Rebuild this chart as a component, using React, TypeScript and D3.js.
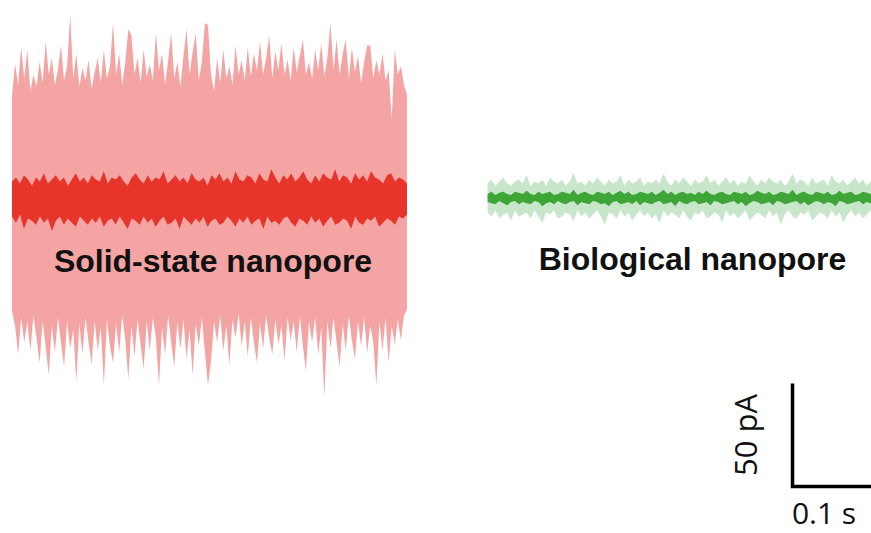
import * as d3 from 'd3';
import React from 'react';

// Peak envelope of the solid-state trace, pA
const solidLightTop = [50, 65, 55, 73, 58, 72, 52, 60, 54, 66, 56, 76, 60, 68, 55, 62, 74, 57, 64, 89, 58, 70, 54, 63, 57, 67, 53, 61, 68, 56, 72, 58, 64, 85, 60, 70, 55, 66, 82, 79, 60, 68, 56, 72, 59, 65, 57, 80, 62, 70, 55, 67, 80, 58, 66, 54, 69, 82, 60, 71, 80, 57, 66, 85, 84, 60, 52, 68, 56, 72, 58, 64, 55, 74, 60, 67, 57, 73, 59, 70, 62, 76, 60, 68, 79, 58, 71, 62, 75, 60, 67, 57, 73, 61, 69, 77, 60, 66, 58, 72, 62, 75, 59, 68, 85, 62, 77, 60, 70, 77, 58, 73, 61, 69, 56, 66, 74, 74, 58, 67, 60, 70, 57, 62, 38, 72, 60, 64, 55, 50];
const solidLightBottom = [-55, -62, -76, -58, -70, -60, -74, -57, -68, -80, -60, -72, -86, -62, -75, -58, -70, -82, -60, -73, -64, -89, -61, -76, -58, -70, -81, -60, -74, -63, -91, -59, -72, -80, -61, -75, -57, -69, -88, -62, -77, -59, -71, -83, -60, -74, -58, -68, -91, -63, -76, -57, -70, -82, -60, -73, -59, -78, -64, -86, -61, -72, -58, -75, -91, -79, -60, -70, -57, -74, -62, -81, -59, -68, -56, -72, -60, -77, -58, -70, -80, -61, -73, -57, -68, -76, -59, -71, -62, -79, -58, -69, -60, -75, -57, -72, -84, -60, -70, -58, -76, -63, -97, -60, -73, -58, -70, -82, -61, -74, -57, -69, -78, -60, -72, -58, -75, -62, -70, -91, -60, -74, -58, -80, -62, -71, -59, -69, -57, -54];
const solidDarkTop = [8, 10, 7, 11, 9, 6, 10, 8, 12, 7, 9, 11, 8, 10, 6, 9, 12, 8, 10, 7, 11, 9, 8, 13, 7, 10, 9, 11, 8, 6, 10, 12, 9, 7, 11, 8, 10, 9, 13, 7, 9, 11, 8, 10, 7, 12, 9, 8, 10, 6, 11, 9, 12, 8, 10, 7, 13, 9, 8, 11, 10, 7, 12, 9, 8, 14, 10, 7, 11, 9, 12, 8, 10, 13, 9, 7, 11, 8, 12, 10, 9, 14, 8, 11, 10, 7, 12, 9, 11, 8, 13, 10, 9, 7, 11, 12, 8, 10, 9, 7];
const solidDarkBottom = [-9, -12, -8, -15, -10, -11, -13, -9, -12, -10, -16, -11, -9, -13, -10, -12, -14, -9, -11, -13, -10, -12, -9, -14, -11, -10, -13, -9, -12, -15, -10, -11, -13, -9, -12, -10, -14, -11, -9, -13, -12, -10, -15, -9, -11, -13, -10, -12, -9, -14, -11, -10, -13, -12, -9, -11, -14, -10, -12, -9, -13, -11, -10, -15, -9, -12, -11, -13, -10, -9, -12, -14, -10, -11, -13, -9, -12, -10, -14, -11, -9, -13, -12, -10, -11, -15, -9, -12, -13, -10, -11, -9, -14, -12, -10, -11, -13, -9, -10, -8];

// Biological nanopore trace envelope, pA
const bioLightTop = [7, 9, 6, 8, 10, 7, 6, 8, 9, 7, 11, 6, 8, 7, 9, 6, 10, 8, 7, 9, 6, 8, 12, 7, 8, 6, 9, 7, 10, 8, 6, 9, 7, 8, 11, 6, 9, 7, 8, 10, 6, 8, 7, 9, 7, 12, 8, 6, 9, 7, 10, 8, 6, 9, 7, 8, 11, 7, 9, 6, 8, 10, 7, 9, 6, 8, 7, 11, 8, 6, 9, 7, 10, 8, 7, 9, 6, 8, 12, 7, 9, 8, 6, 10, 7, 8, 9, 6, 11, 8, 7, 9, 6, 8, 10, 7, 9, 6, 8, 7];
const bioLightBottom = [-7, -9, -6, -10, -8, -7, -11, -6, -9, -8, -7, -10, -6, -9, -12, -7, -8, -6, -10, -9, -7, -8, -11, -6, -9, -7, -10, -8, -6, -9, -13, -7, -8, -10, -6, -9, -7, -11, -8, -6, -9, -7, -10, -8, -12, -6, -9, -7, -8, -10, -6, -9, -11, -7, -8, -6, -10, -9, -7, -8, -12, -6, -9, -7, -10, -8, -6, -11, -9, -7, -8, -10, -6, -9, -7, -13, -8, -6, -9, -10, -7, -8, -6, -11, -9, -7, -8, -10, -6, -9, -7, -12, -8, -6, -9, -7, -10, -8, -6, -7];
const bioDarkTop = [2, 3, 1.5, 2.5, 3, 2, 1.5, 3, 2.5, 2, 3.5, 2, 1.5, 3, 2, 2.5, 3, 1.5, 2, 3, 2.5, 2, 4, 1.5, 2.5, 3, 2, 1.5, 3, 2.5, 2, 3, 1.5, 2.5, 3.5, 2, 3, 1.5, 2, 3, 2.5, 2, 3, 1.5, 2.5, 4, 2, 3, 1.5, 2.5, 3, 2, 2.5, 1.5, 3, 2, 3.5, 2, 1.5, 2.5, 3, 2, 1.5, 3, 2.5, 2, 3, 1.5, 2, 3.5, 2.5, 2, 3, 1.5, 2, 3, 2.5, 2, 4, 1.5, 2.5, 3, 2, 1.5, 3, 2.5, 2, 3, 1.5, 2, 3.5, 2, 2.5, 3, 1.5, 2, 3, 2.5, 2, 1.5];
const bioDarkBottom = [-2, -2.5, -3, -1.5, -2.5, -3.5, -2, -1.5, -3, -2, -2.5, -3, -1.5, -2, -4, -2.5, -2, -3, -1.5, -2.5, -3, -2, -1.5, -3.5, -2, -2.5, -3, -1.5, -2, -3, -2.5, -4, -2, -1.5, -3, -2.5, -2, -3, -1.5, -3.5, -2, -2.5, -3, -2, -1.5, -3, -2.5, -2, -4, -1.5, -2.5, -3, -2, -1.5, -3, -2.5, -2, -3.5, -1.5, -2, -3, -2.5, -2, -1.5, -3, -2, -4, -2.5, -1.5, -2, -3, -2.5, -2, -3.5, -1.5, -2, -3, -2.5, -2, -1.5, -3, -2, -3.5, -2.5, -1.5, -2, -3, -2, -2.5, -4, -1.5, -2, -3, -2.5, -2, -1.5, -3, -2, -2.5, -2];

// time windows of the two recordings, s
const solidSpan = [0, 0.5];
const bioSpan = [0.602, 1.092];
// scale bar
const barTime = 0.1; // s
const barCurrent = 50; // pA
const barOrigin = [0.988, -140];

const W = 871;
const H = 533;

export default function App() {
  const x = d3.scaleLinear().domain([0, 1.1]).range([12, 881]);
  const y = d3.scaleLinear().domain([-150, 100]).range([507, -8]);

  const band = (top: number[], bottom: number[], span: number[]) => {
    const t = d3.scaleLinear().domain([0, top.length - 1]).range(span);
    const area = d3
      .area<number>()
      .x((_, i) => x(t(i)))
      .y0((_, i) => y(bottom[i]))
      .y1((d) => y(d))
      .curve(d3.curveLinear);
    return area(top) || '';
  };

  const [bx, by] = barOrigin;

  return (
    <svg width={W} height={H} style={{ position: 'absolute', left: 0, top: 0 }}>
      <rect width={W} height={H} fill="#fff" />
      <path d={band(solidLightTop, solidLightBottom, solidSpan)} fill="#f4a4a3" />
      <path d={band(solidDarkTop, solidDarkBottom, solidSpan)} fill="#e8352b" />
      <path d={band(bioLightTop, bioLightBottom, bioSpan)} fill="#c8e6ca" />
      <path d={band(bioDarkTop, bioDarkBottom, bioSpan)} fill="#3ea537" />

      <text
        x={213}
        y={272}
        textAnchor="middle"
        fontFamily="'Liberation Sans', Arial, sans-serif"
        fontWeight="bold"
        fontSize={32}
        fill="#111"
      >
        Solid-state nanopore
      </text>
      <text
        x={692.5}
        y={270}
        textAnchor="middle"
        fontFamily="'Liberation Sans', Arial, sans-serif"
        fontWeight="bold"
        fontSize={32}
        fill="#111"
      >
        Biological nanopore
      </text>

      <path
        d={`M${x(bx)},${y(by + barCurrent)}V${y(by)}H${x(bx + barTime)}`}
        fill="none"
        stroke="#000"
        strokeWidth={3.5}
      />
      <text
        transform={`translate(${x(bx) - 48},${(y(by) + y(by + barCurrent)) / 2}) rotate(-90)`}
        textAnchor="middle"
        dominantBaseline="central"
        fontFamily="'Open Sans', sans-serif"
        fontSize={31}
        fill="#111"
      >
        50 pA
      </text>
      <text
        x={x(bx + barTime / 2) - 8}
        y={y(by) + 38}
        textAnchor="middle"
        fontFamily="'Open Sans', sans-serif"
        fontSize={30}
        fill="#111"
      >
        0.1 s
      </text>
    </svg>
  );
}
